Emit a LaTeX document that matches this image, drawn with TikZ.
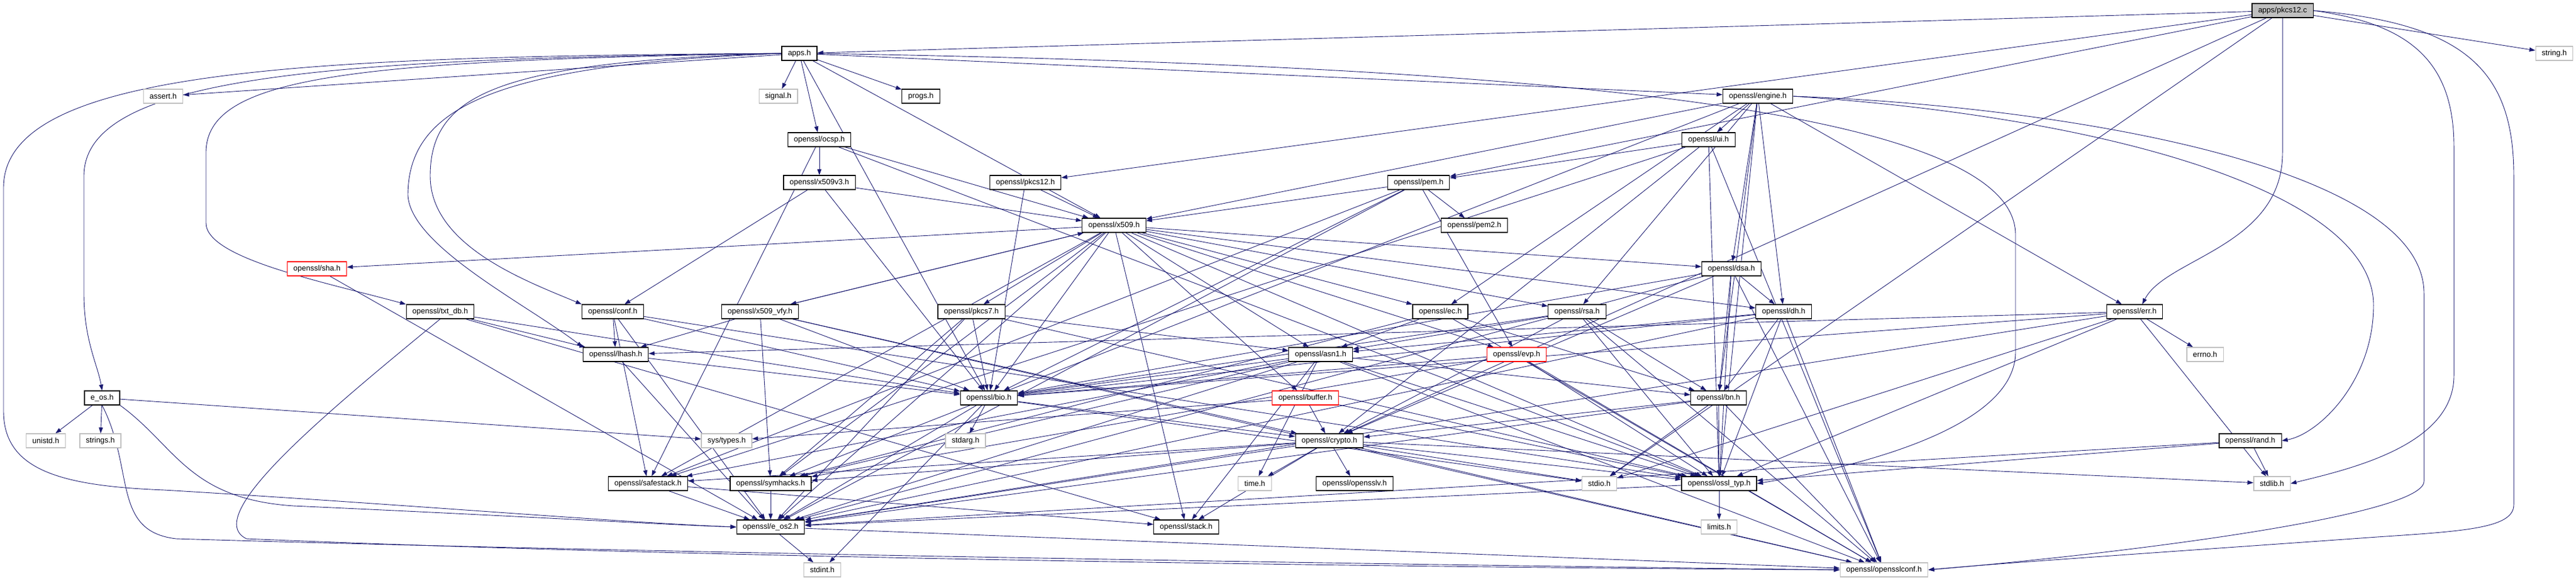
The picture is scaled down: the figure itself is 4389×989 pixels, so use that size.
\documentclass[tikz,border=0pt]{standalone}
\usepackage{fontspec}
\setmainfont{Liberation Sans}
\usetikzlibrary{arrows.meta}
\definecolor{kante}{RGB}{25,25,112}
\definecolor{grau}{RGB}{191,191,191}
\pgfdeclarelayer{hinten}
\pgfsetlayers{hinten,main}
\begin{document}
\begin{tikzpicture}
	[
	x=1pt, y=-1pt, font=\fontsize{13}{15}\selectfont, >={Triangle[length=10pt,width=7pt]},
	%Kaesten und Pfeile
	datei/.style={draw=black, line width=1.2pt, fill=white, minimum height=24pt, inner xsep=10.5pt, inner ysep=0pt},
	sys/.style={datei, draw=grau},
	rot/.style={datei, draw=red},
	wurzel/.style={datei, fill=grau},
	pfeil/.style={->, kante, line width=0.9pt}
	]
	\useasboundingbox (0,0) rectangle (4389,989);
	%Zeile 0 bis 4
	\node[wurzel] (pkcsc) at (3889,18) {apps/pkcs12.c};
	\node[datei] (apps) at (1362,91) {apps.h};
	\node[sys] (string) at (4352,91) {string.h};
	\node[sys] (assert) at (278,164) {assert.h};
	\node[sys] (signal) at (1326,164) {signal.h};
	\node[datei] (progs) at (1569,164) {progs.h};
	\node[datei] (engine) at (2995,164) {openssl/engine.h};
	\node[datei] (ocsp) at (1396,238) {openssl/ocsp.h};
	\node[datei] (ui) at (2911,238) {openssl/ui.h};
	\node[datei] (pem) at (2417,311) {openssl/pem.h};
	\node[datei] (pkcsh) at (1747,311) {openssl/pkcs12.h};
	\node[datei] (xvdrei) at (1396,311) {openssl/x509v3.h};
	%Zeile 5 bis 8
	\node[datei] (pemzwei) at (2512,384) {openssl/pem2.h};
	\node[datei] (x509) at (1898,384) {openssl/x509.h};
	\node[rot] (sha) at (540,458) {openssl/sha.h};
	\node[datei] (dsa) at (2950,458) {openssl/dsa.h};
	\node[datei] (txtdb) at (750,531) {openssl/txt\_db.h};
	\node[datei] (conf) at (1044,531) {openssl/conf.h};
	\node[datei] (vfy) at (1295,531) {openssl/x509\_vfy.h};
	\node[datei] (pkcss) at (1655,531) {openssl/pkcs7.h};
	\node[datei] (ec) at (2454,531) {openssl/ec.h};
	\node[datei] (rsa) at (2687,531) {openssl/rsa.h};
	\node[datei] (dh) at (3039,531) {openssl/dh.h};
	\node[datei] (err) at (3637,531) {openssl/err.h};
	\node[datei] (lhash) at (1049,604) {openssl/lhash.h};
	\node[datei] (asn) at (2250,604) {openssl/asn1.h};
	\node[rot] (evp) at (2584,604) {openssl/evp.h};
	\node[sys] (errno) at (3757,604) {errno.h};
	%Zeile 9 bis 13
	\node[datei] (eos) at (174,678) {e\_os.h};
	\node[datei] (bio) at (1685,678) {openssl/bio.h};
	\node[rot] (buffer) at (2224,678) {openssl/buffer.h};
	\node[datei] (bn) at (2928,678) {openssl/bn.h};
	\node[sys] (unistd) at (78,751) {unistd.h};
	\node[sys] (strings) at (171,751) {strings.h};
	\node[sys] (systypes) at (1238,751) {sys/types.h};
	\node[sys] (stdarg) at (1645,751) {stdarg.h};
	\node[datei] (crypto) at (2265,751) {openssl/crypto.h};
	\node[datei] (rand) at (3834,751) {openssl/rand.h};
	\node[datei] (safestack) at (1104,824) {openssl/safestack.h};
	\node[datei] (symhacks) at (1313,824) {openssl/symhacks.h};
	\node[sys] (time) at (2138,824) {time.h};
	\node[datei] (opensslv) at (2308,824) {openssl/opensslv.h};
	\node[sys] (stdio) at (2725,824) {stdio.h};
	\node[datei] (ossltyp) at (2929,824) {openssl/ossl\_typ.h};
	\node[sys] (stdlib) at (3871,824) {stdlib.h};
	\node[datei] (eosz) at (1313,898) {openssl/e\_os2.h};
	\node[datei] (stack) at (2021,898) {openssl/stack.h};
	\node[sys] (limits) at (2929,898) {limits.h};
	\node[sys] (stdint) at (1401,971) {stdint.h};
	\node[sys] (sslconf) at (3210,971) {openssl/opensslconf.h};
	%Abhaengigkeiten
	\begin{pgfonlayer}{hinten}
		\foreach \z in {stdio,string,apps,crypto,pem,pkcsh} \draw[pfeil] (pkcsc) -- (\z);
		\foreach \z in {assert,bio,x509,engine,ocsp,signal,progs} \draw[pfeil] (apps) -- (\z);
		\foreach \z in {bn,rsa,dsa,dh,ec,ui,err,ossltyp,symhacks,x509} \draw[pfeil] (engine) -- (\z);
		\foreach \z in {ossltyp,x509,xvdrei,safestack} \draw[pfeil] (ocsp) -- (\z);
		\foreach \z in {sslconf,crypto,safestack,pem,ossltyp} \draw[pfeil] (ui) -- (\z);
		\foreach \z in {eosz,bio,safestack,evp,x509,pemzwei} \draw[pfeil] (pem) -- (\z);
		\foreach \z in {bio,x509} \draw[pfeil] (pkcsh) -- (\z);
		\foreach \z in {bio,x509,conf} \draw[pfeil] (xvdrei) -- (\z);
		\foreach \z in {eosz,ossltyp,symhacks,buffer,evp,bio,stack,asn,safestack,ec,rsa,dsa,dh,sha,vfy,pkcss} \draw[pfeil] (x509) -- (\z);
		\foreach \z in {sslconf,eosz,bio,crypto,ossltyp,bn,dh} \draw[pfeil] (dsa) -- (\z);
		\foreach \z in {bio,stack,lhash} \draw[pfeil] (txtdb) -- (\z);
		\foreach \z in {bio,lhash,safestack,eosz,ossltyp} \draw[pfeil] (conf) -- (\z);
		\foreach \z in {sslconf,lhash,bio,crypto,symhacks,x509} \draw[pfeil] (vfy) -- (\z);
		\foreach \z in {asn,bio,eosz,symhacks,ossltyp} \draw[pfeil] (pkcss) -- (\z);
		\foreach \z in {sslconf,asn,symhacks,bn} \draw[pfeil] (ec) -- (\z);
		\foreach \z in {sslconf,asn,bio,crypto,ossltyp,bn} \draw[pfeil] (rsa) -- (\z);
		\foreach \z in {sslconf,eosz,bio,asn,ossltyp,bn} \draw[pfeil] (dh) -- (\z);
		\foreach \z in {eosz,stdio,stdlib,ossltyp,bio,lhash,errno} \draw[pfeil] (err) -- (\z);
		\foreach \z in {eosz,bio} \draw[pfeil] (lhash) -- (\z);
		\foreach \z in {time,eosz,sslconf,bio,stack,safestack,symhacks,ossltyp,bn} \draw[pfeil] (asn) -- (\z);
		\foreach \z in {sslconf,ossltyp,symhacks,bio} \draw[pfeil] (evp) -- (\z);
		\foreach \z in {unistd,strings,systypes} \draw[pfeil] (eos) -- (\z);
		\foreach \z in {eosz,stdio,stdarg,crypto,stdint} \draw[pfeil] (bio) -- (\z);
		\foreach \z in {ossltyp,systypes,crypto} \draw[pfeil] (buffer) -- (\z);
		\foreach \z in {eosz,stdio,sslconf,ossltyp,crypto} \draw[pfeil] (bn) -- (\z);
		\foreach \z in {stdlib,time,eosz,stdio,stack,safestack,opensslv,ossltyp,sslconf,symhacks} \draw[pfeil] (crypto) -- (\z);
		\foreach \z in {stdlib,ossltyp,eosz} \draw[pfeil] (rand) -- (\z);
		\foreach \z in {stack,eosz} \draw[pfeil] (safestack) -- (\z);
		\foreach \z in {eosz,limits} \draw[pfeil] (ossltyp) -- (\z);
		\foreach \z in {sslconf,stdint} \draw[pfeil] (eosz) -- (\z);
		\draw[pfeil] (sha) -- (eosz);
		\draw[pfeil] (symhacks) -- (eosz);
		%lange Boegen links
		\draw[pfeil] (apps.west) .. controls (500,96) and (6,120) .. (6,320) -- (6,700) .. controls (6,800) and (100,828) .. (280,835) .. controls (700,860) and (1050,890) .. (eosz.west);
		\draw[pfeil] (apps.west) .. controls (550,100) and (143,130) .. (143,300) -- (143,500) .. controls (143,580) and (166,620) .. (eos.north);
		\draw[pfeil] (apps.west) .. controls (600,103) and (351,130) .. (351,260) -- (351,380) .. controls (351,440) and (550,480) .. (txtdb.north west);
		\draw[pfeil] (apps.west) .. controls (850,110) and (695,180) .. (695,333) .. controls (700,420) and (900,520) .. (lhash.north west);
		\draw[pfeil] (apps.west) .. controls (850,105) and (733,160) .. (733,300) .. controls (733,420) and (900,480) .. (conf.north west);
		\draw[pfeil] (eos.south east) .. controls (300,760) and (320,850) .. (500,862) .. controls (900,880) and (1150,895) .. (eosz.west);
		\draw[pfeil] (eos.south) .. controls (230,800) and (190,905) .. (300,918) .. controls (1200,945) and (2600,965) .. (sslconf.west);
		\draw[pfeil] (txtdb.south) .. controls (560,700) and (340,880) .. (420,918) .. controls (1300,955) and (2600,968) .. (sslconf.west);
		%lange Boegen rechts
		\draw[pfeil] (apps.east) .. controls (2500,110) and (3434,170) .. (3434,400) -- (3434,600) .. controls (3434,720) and (3200,790) .. (ossltyp.east);
		\draw[pfeil] (engine.east) .. controls (3600,200) and (4044,330) .. (4044,520) .. controls (4044,650) and (3950,740) .. (rand.east);
		\draw[pfeil] (pkcsc.south) -- (3889,260) .. controls (3889,420) and (3690,440) .. ([xshift=13pt]err.north);
		\draw[pfeil] (pkcsc.east) .. controls (4100,40) and (4181,100) .. (4181,250) -- (4181,640) .. controls (4181,760) and (4000,800) .. (stdlib.east);
		\draw[pfeil] (pkcsc.east) .. controls (4200,40) and (4283,120) .. (4283,300) -- (4283,860) .. controls (4283,900) and (4200,905) .. (4050,915) .. controls (3700,940) and (3400,960) .. (sslconf.east);
		\draw[pfeil] (engine.east) .. controls (3500,180) and (4130,280) .. (4130,500) -- (4130,820) .. controls (4130,880) and (3600,945) .. (sslconf.east);
	\end{pgfonlayer}
\end{tikzpicture}
\end{document}
